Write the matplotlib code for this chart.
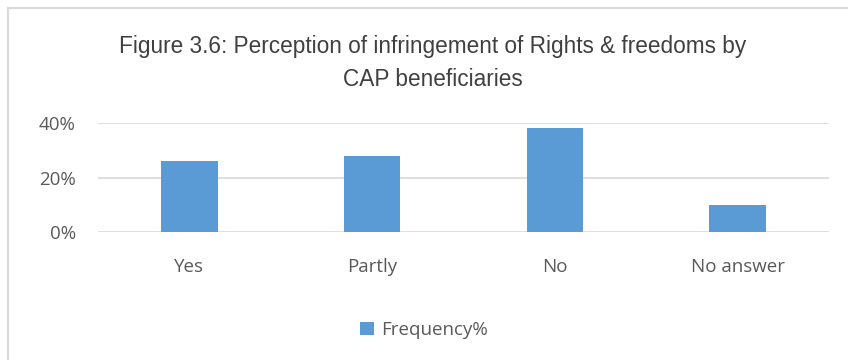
import matplotlib.pyplot as plt
import matplotlib.patches as mpatches
from matplotlib.ticker import PercentFormatter

categories = ["Yes", "Partly", "No", "No answer"]
frequency = [26, 28, 38, 10]
y_ticks = [0, 20, 40]

W, H = 848, 360
fig = plt.figure(figsize=(W / 100, H / 100), dpi=100)

# chart area border
fig.patches.append(mpatches.Rectangle((8 / W, -0.1), 1.0, 1 - 8 / H + 0.1,
                                      transform=fig.transFigure, fill=False,
                                      edgecolor="#d9d9d9", linewidth=1.5))

ax = fig.add_axes([98 / W, 1 - 232 / H, (829 - 98) / W, (232 - 123) / H])
ax.bar(range(len(categories)), frequency, width=0.31, color="#5b9bd5", zorder=3,
       label="Frequency%")
ax.set_xlim(-0.5, len(categories) - 0.5)
ax.set_ylim(0, 40)
ax.set_yticks(y_ticks)
ax.yaxis.set_major_formatter(PercentFormatter(decimals=0))
ax.set_xticks(range(len(categories)))
ax.set_xticklabels(categories)
ax.grid(axis="y", color="#d9d9d9", linewidth=1.2, zorder=0)
for s in ax.spines.values():
    s.set_visible(False)
ax.tick_params(length=0, labelsize=13.5, labelcolor="#595959")
ax.tick_params(axis="x", pad=19)
ax.tick_params(axis="y", pad=16)
for lbl in ax.get_xticklabels() + ax.get_yticklabels():
    lbl.set_family("Open Sans")

fig.text(433 / W, 1 - 63 / H, "Figure 3.6: Perception of infringement of Rights & freedoms by\nCAP beneficiaries",
         ha="center", va="center", fontsize=16.3, color="#404040",
         family=["Liberation Sans Narrow", "Liberation Sans", "DejaVu Sans"],
         linespacing=1.5)

leg = fig.legend(loc="center", bbox_to_anchor=(0.5, 1 - 330 / H), frameon=False,
                 prop={"family": "Open Sans", "size": 13.5}, handlelength=0.75,
                 handleheight=0.75, handletextpad=0.4)
for t in leg.get_texts():
    t.set_color("#595959")

fig.savefig("out.png", dpi=100)
